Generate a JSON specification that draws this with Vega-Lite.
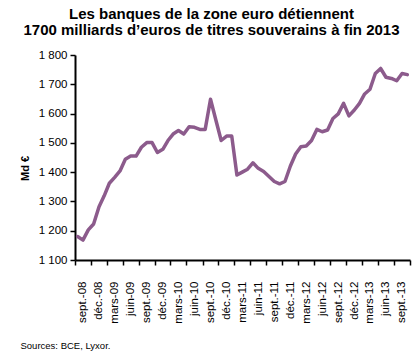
{
  "$schema": "https://vega.github.io/schema/vega-lite/v6.json",
  "width": 335,
  "height": 205,
  "autosize": "none",
  "padding": {"left": 75, "top": 55, "right": 10, "bottom": 97},
  "background": "white",
  "config": {
    "view": {"stroke": null},
    "font": "Liberation Sans",
    "axis": {"grid": false, "labelFont": "Liberation Sans", "titleFont": "Liberation Sans", "labelColor": "#000000", "titleColor": "#000000"}
  },
  "title": {
    "text": ["Les banques de la zone euro détiennent", "1700 milliards d’euros de titres souverains à fin 2013"],
    "font": "Liberation Sans",
    "fontSize": 15,
    "fontWeight": "bold",
    "color": "#000000",
    "anchor": "middle",
    "frame": "group",
    "dx": -31,
    "lineHeight": 16,
    "offset": 11
  },
  "data": {
    "values": [
      {"mois": "2008-09", "valeur": 1180},
      {"mois": "2008-10", "valeur": 1168},
      {"mois": "2008-11", "valeur": 1203},
      {"mois": "2008-12", "valeur": 1223},
      {"mois": "2009-01", "valeur": 1282},
      {"mois": "2009-02", "valeur": 1319},
      {"mois": "2009-03", "valeur": 1362},
      {"mois": "2009-04", "valeur": 1382},
      {"mois": "2009-05", "valeur": 1404},
      {"mois": "2009-06", "valeur": 1444},
      {"mois": "2009-07", "valeur": 1455},
      {"mois": "2009-08", "valeur": 1455},
      {"mois": "2009-09", "valeur": 1485},
      {"mois": "2009-10", "valeur": 1501},
      {"mois": "2009-11", "valeur": 1501},
      {"mois": "2009-12", "valeur": 1467},
      {"mois": "2010-01", "valeur": 1478},
      {"mois": "2010-02", "valeur": 1508},
      {"mois": "2010-03", "valeur": 1530},
      {"mois": "2010-04", "valeur": 1542},
      {"mois": "2010-05", "valeur": 1530},
      {"mois": "2010-06", "valeur": 1555},
      {"mois": "2010-07", "valeur": 1553},
      {"mois": "2010-08", "valeur": 1546},
      {"mois": "2010-09", "valeur": 1546},
      {"mois": "2010-10", "valeur": 1649},
      {"mois": "2010-11", "valeur": 1578},
      {"mois": "2010-12", "valeur": 1508},
      {"mois": "2011-01", "valeur": 1523},
      {"mois": "2011-02", "valeur": 1523},
      {"mois": "2011-03", "valeur": 1390},
      {"mois": "2011-04", "valeur": 1400},
      {"mois": "2011-05", "valeur": 1410},
      {"mois": "2011-06", "valeur": 1432},
      {"mois": "2011-07", "valeur": 1413},
      {"mois": "2011-08", "valeur": 1402},
      {"mois": "2011-09", "valeur": 1385},
      {"mois": "2011-10", "valeur": 1368},
      {"mois": "2011-11", "valeur": 1360},
      {"mois": "2011-12", "valeur": 1368},
      {"mois": "2012-01", "valeur": 1421},
      {"mois": "2012-02", "valeur": 1462},
      {"mois": "2012-03", "valeur": 1487},
      {"mois": "2012-04", "valeur": 1489},
      {"mois": "2012-05", "valeur": 1508},
      {"mois": "2012-06", "valeur": 1546},
      {"mois": "2012-07", "valeur": 1538},
      {"mois": "2012-08", "valeur": 1544},
      {"mois": "2012-09", "valeur": 1583},
      {"mois": "2012-10", "valeur": 1599},
      {"mois": "2012-11", "valeur": 1635},
      {"mois": "2012-12", "valeur": 1592},
      {"mois": "2013-01", "valeur": 1612},
      {"mois": "2013-02", "valeur": 1635},
      {"mois": "2013-03", "valeur": 1667},
      {"mois": "2013-04", "valeur": 1683},
      {"mois": "2013-05", "valeur": 1737},
      {"mois": "2013-06", "valeur": 1754},
      {"mois": "2013-07", "valeur": 1724},
      {"mois": "2013-08", "valeur": 1720},
      {"mois": "2013-09", "valeur": 1712},
      {"mois": "2013-10", "valeur": 1737},
      {"mois": "2013-11", "valeur": 1733}
    ]
  },
  "layer": [
    {
      "mark": {"type": "line", "opacity": 0},
      "encoding": {
        "x": {
          "field": "mois",
          "type": "temporal",
          "timeUnit": "utcyearmonth",
          "bandPosition": 0.5,
          "axis": {
            "orient": "bottom",
            "title": "Sources: BCE, Lyxor.",
            "titleFont": "Liberation Sans",
            "titleFontSize": 9.5,
            "titleFontWeight": "normal",
            "titleAnchor": "start",
            "titleAlign": "left",
            "titleBaseline": "alphabetic",
            "titleX": -55,
            "titleY": 88,
            "domain": false,
            "ticks": false,
            "labelAngle": -90,
            "labelAlign": "right",
            "labelBaseline": "middle",
            "labelFontSize": 11.5,
            "labelPadding": 21,
            "labelOverlap": false,
            "labelBound": false,
            "labelFlush": false,
            "labelExpr": "['janv.','févr.','mars','avr.','mai','juin','juil.','août','sept.','oct.','nov.','déc.'][utcmonth(datum.value - 3456000000)] + '-' + utcFormat(datum.value - 3456000000, '%y')",
            "values": [
              {"year": 2008, "month": 10, "date": 16, "utc": true},
              {"year": 2009, "month": 1, "date": 16, "utc": true},
              {"year": 2009, "month": 4, "date": 16, "utc": true},
              {"year": 2009, "month": 7, "date": 16, "utc": true},
              {"year": 2009, "month": 10, "date": 16, "utc": true},
              {"year": 2010, "month": 1, "date": 16, "utc": true},
              {"year": 2010, "month": 4, "date": 16, "utc": true},
              {"year": 2010, "month": 7, "date": 16, "utc": true},
              {"year": 2010, "month": 10, "date": 16, "utc": true},
              {"year": 2011, "month": 1, "date": 16, "utc": true},
              {"year": 2011, "month": 4, "date": 16, "utc": true},
              {"year": 2011, "month": 7, "date": 16, "utc": true},
              {"year": 2011, "month": 10, "date": 16, "utc": true},
              {"year": 2012, "month": 1, "date": 16, "utc": true},
              {"year": 2012, "month": 4, "date": 16, "utc": true},
              {"year": 2012, "month": 7, "date": 16, "utc": true},
              {"year": 2012, "month": 10, "date": 16, "utc": true},
              {"year": 2013, "month": 1, "date": 16, "utc": true},
              {"year": 2013, "month": 4, "date": 16, "utc": true},
              {"year": 2013, "month": 7, "date": 16, "utc": true},
              {"year": 2013, "month": 10, "date": 16, "utc": true}
            ]
          }
        },
        "y": {"field": "valeur", "type": "quantitative", "axis": null}
      }
    },
    {
      "mark": {"type": "line", "color": "#8c5b8c", "strokeWidth": 3.5, "strokeJoin": "round", "strokeCap": "round"},
      "encoding": {
        "x": {
          "field": "mois",
          "type": "temporal",
          "timeUnit": "utcyearmonth",
          "bandPosition": 0.5,
          "scale": {"type": "utc", "domain": [{"year": 2008, "month": 9, "date": 1, "utc": true}, {"year": 2013, "month": 12, "date": 1, "utc": true}], "nice": false},
          "axis": {
            "orient": "bottom",
            "title": null,
            "labels": false,
            "domain": true,
            "domainColor": "#000000",
            "domainWidth": 2,
            "ticks": true,
            "tickColor": "#000000",
            "tickWidth": 1.5,
            "tickSize": 5,
            "values": [
              {"year": 2008, "month": 9, "date": 1, "utc": true},
              {"year": 2008, "month": 12, "date": 1, "utc": true},
              {"year": 2009, "month": 3, "date": 1, "utc": true},
              {"year": 2009, "month": 6, "date": 1, "utc": true},
              {"year": 2009, "month": 9, "date": 1, "utc": true},
              {"year": 2009, "month": 12, "date": 1, "utc": true},
              {"year": 2010, "month": 3, "date": 1, "utc": true},
              {"year": 2010, "month": 6, "date": 1, "utc": true},
              {"year": 2010, "month": 9, "date": 1, "utc": true},
              {"year": 2010, "month": 12, "date": 1, "utc": true},
              {"year": 2011, "month": 3, "date": 1, "utc": true},
              {"year": 2011, "month": 6, "date": 1, "utc": true},
              {"year": 2011, "month": 9, "date": 1, "utc": true},
              {"year": 2011, "month": 12, "date": 1, "utc": true},
              {"year": 2012, "month": 3, "date": 1, "utc": true},
              {"year": 2012, "month": 6, "date": 1, "utc": true},
              {"year": 2012, "month": 9, "date": 1, "utc": true},
              {"year": 2012, "month": 12, "date": 1, "utc": true},
              {"year": 2013, "month": 3, "date": 1, "utc": true},
              {"year": 2013, "month": 6, "date": 1, "utc": true},
              {"year": 2013, "month": 9, "date": 1, "utc": true},
              {"year": 2013, "month": 12, "date": 1, "utc": true}
            ]
          }
        },
        "y": {
          "field": "valeur",
          "type": "quantitative",
          "scale": {"domain": [1100, 1800], "nice": false, "zero": false},
          "axis": {
            "title": "Md €",
            "titleFontSize": 11,
            "titleFontWeight": "bold",
            "titleAngle": -90,
            "titleAlign": "center",
            "titleBaseline": "middle",
            "titleX": -50,
            "titleY": 113,
            "values": [1100, 1200, 1300, 1400, 1500, 1600, 1700, 1800],
            "labelExpr": "replace(format(datum.value, ','), ',', ' ')",
            "labelFontSize": 11.5,
            "labelPadding": 3,
            "domainColor": "#000000",
            "domainWidth": 2,
            "tickColor": "#000000",
            "tickWidth": 1.5,
            "tickSize": 5
          }
        }
      }
    }
  ],
  "resolve": {"axis": {"x": "independent", "y": "independent"}}
}
